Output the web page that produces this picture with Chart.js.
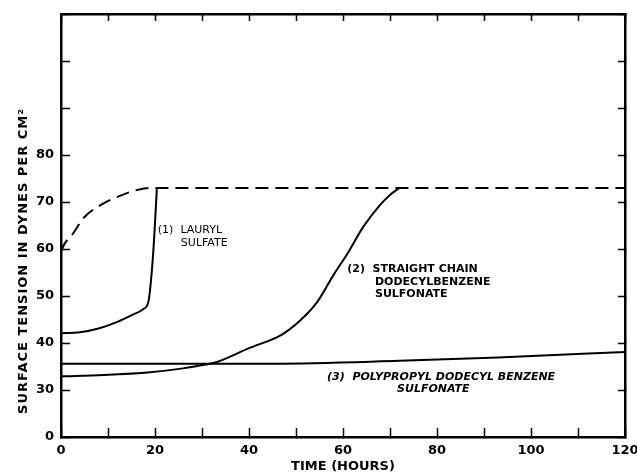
<!DOCTYPE html>
<html>
<head>
<meta charset="utf-8">
<script src="https://cdn.jsdelivr.net/npm/chart.js@4.4.1/dist/chart.umd.min.js"></script>
<style>
  html, body { margin: 0; padding: 0; background: #fff; }
  #wrap { width: 637px; height: 474px; position: relative; }
</style>
</head>
<body>
<div id="wrap"><canvas id="tensionChart"></canvas></div>
<script>
// Surface tension vs. time.
// Note the y axis is broken: the bottom tick reads "0" but sits where 20 would be.

const xTickValues = [0, 10, 20, 30, 40, 50, 60, 70, 80, 90, 100, 110, 120];
const xTickLabels = ['0', '', '20', '', '40', '', '60', '', '80', '', '100', '', '120'];
const yTickValues = [20, 30, 40, 50, 60, 70, 80, 90, 100, 110];
const yTickLabels = ['0', '30', '40', '50', '60', '70', '80', '', '', ''];

// dashed curve (rise to the plateau, then flat)
const dashedTime = [0, 0.8, 2.2, 4.9, 8.5, 12, 15.6, 19.3, 20.5, 120];
const dashedTension = [59.5, 61.2, 62.8, 66.7, 69.4, 71.1, 72.4, 73, 73, 73];

// (1) lauryl sulfate
const laurylTime = [0, 4, 8, 12, 15, 17.5, 18.6, 19.3, 19.8, 20.4];
const laurylTension = [42.1, 42.3, 43.1, 44.5, 45.9, 47.2, 48.8, 55, 62, 73];

// (2) straight chain dodecylbenzene sulfonate
const straightTime = [0, 9, 19, 26, 29.5, 33, 40, 47, 51, 54.5, 58, 61, 64.3, 67.9, 70, 72];
const straightTension = [32.9, 33.2, 33.8, 34.6, 35.2, 35.9, 38.9, 41.8, 44.9, 48.7, 54.5, 59.1, 64.7, 69.4, 71.5, 73];

// (3) polypropyl dodecyl benzene sulfonate
const polyTime = [0, 45, 72, 93, 120];
const polyTension = [35.6, 35.6, 36.2, 36.9, 38.1];

const yTitle = 'SURFACE TENSION IN DYNES PER CM\u00B2';
const xTitle = 'TIME (HOURS)';
const laurylLabel = ['(1)  LAURYL', 'SULFATE'];
const straightLabel = ['(2)  STRAIGHT CHAIN', 'DODECYLBENZENE', 'SULFONATE'];
const polyLabel = ['(3)  POLYPROPYL DODECYL BENZENE', 'SULFONATE'];

function points(xs, ys) {
  return xs.map((x, i) => ({ x: x, y: ys[i] }));
}

function pickLabel(values, labels) {
  return (v) => {
    const i = values.indexOf(v);
    return i < 0 ? '' : labels[i];
  };
}

// drop the half-label overhang padding so the frame goes where we size it
function noOverhang(s) {
  s.paddingLeft = 0;
  s.paddingRight = 0;
  s.paddingTop = 0;
  s.paddingBottom = 0;
}

Chart.defaults.font.family = "'DejaVu Sans', sans-serif";
Chart.defaults.color = '#000';

const AXIS_W = 2.5;

// text on the plot: curve names placed in data units, plus the rotated y title
const plotText = {
  id: 'plotText',
  afterDatasetsDraw(chart) {
    const { ctx, scales } = chart;
    const sx = scales.x, sy = scales.y;
    const put = (lines, at, font) => {
      ctx.font = font;
      lines.forEach((line, i) => {
        ctx.fillText(line, sx.getPixelForValue(at[i][0]), sy.getPixelForValue(at[i][1]));
      });
    };
    ctx.save();
    ctx.fillStyle = '#000';
    ctx.textAlign = 'left';
    ctx.textBaseline = 'middle';
    put(laurylLabel, [[20.6, 64.0], [25.5, 61.3]], "11px 'DejaVu Sans'");
    put(straightLabel, [[60.9, 55.7], [66.8, 53.0], [66.8, 50.4]], "bold 11px 'DejaVu Sans'");
    put(polyLabel, [[56.6, 32.8], [71.5, 30.2]], "italic bold 11px 'DejaVu Sans'");

    ctx.translate(24, 261);
    ctx.rotate(-Math.PI / 2);
    ctx.textAlign = 'center';
    ctx.font = "bold 13px 'DejaVu Sans'";
    ctx.letterSpacing = '1px';
    ctx.fillText(yTitle, 0, 0);
    ctx.restore();
  }
};

const lineStyle = {
  borderColor: '#000',
  borderWidth: 2,
  pointRadius: 0,
  fill: false,
  cubicInterpolationMode: 'monotone'
};

new Chart(document.getElementById('tensionChart'), {
  type: 'line',
  data: {
    datasets: [
      Object.assign({ label: 'reference', data: points(dashedTime, dashedTension), borderDash: [13, 7] }, lineStyle),
      Object.assign({ label: 'lauryl', data: points(laurylTime, laurylTension) }, lineStyle),
      Object.assign({ label: 'straight', data: points(straightTime, straightTension) }, lineStyle),
      Object.assign({ label: 'poly', data: points(polyTime, polyTension) }, lineStyle)
    ]
  },
  options: {
    responsive: true,
    maintainAspectRatio: false,
    animation: false,
    layout: { padding: 0 },
    plugins: { legend: { display: false }, tooltip: { enabled: false } },
    scales: {
      x: {
        type: 'linear',
        position: 'bottom',
        min: 0,
        max: 120,
        afterBuildTicks: (s) => { s.ticks = xTickValues.map((v) => ({ value: v })); },
        ticks: {
          autoSkip: false,
          maxRotation: 0,
          padding: 15,
          font: { size: 13, weight: 'bold' },
          callback: pickLabel(xTickValues, xTickLabels)
        },
        grid: { drawOnChartArea: false, tickLength: -9, tickWidth: 1.5, tickColor: '#000' },
        border: { color: '#000', width: AXIS_W },
        title: { display: true, text: xTitle, font: { size: 13, weight: 'bold' }, padding: { top: 0, bottom: 0 } },
        afterFit: (s) => { s.height = 37; noOverhang(s); }
      },
      x2: {
        type: 'linear',
        position: 'top',
        min: 0,
        max: 120,
        afterBuildTicks: (s) => { s.ticks = xTickValues.map((v) => ({ value: v })); },
        ticks: { display: false },
        grid: { drawOnChartArea: false, tickLength: -7, tickWidth: 1.5, tickColor: '#000' },
        border: { color: '#000', width: AXIS_W },
        afterFit: (s) => { s.height = 14; noOverhang(s); }
      },
      y: {
        type: 'linear',
        position: 'left',
        min: 20,
        max: 110,
        afterBuildTicks: (s) => { s.ticks = yTickValues.map((v) => ({ value: v })); },
        ticks: {
          autoSkip: false,
          padding: 16,
          font: { size: 13, weight: 'bold' },
          callback: pickLabel(yTickValues, yTickLabels)
        },
        grid: { drawOnChartArea: false, tickLength: -9, tickWidth: 1.5, tickColor: '#000' },
        border: { color: '#000', width: AXIS_W },
        afterFit: (s) => { s.width = 61; noOverhang(s); }
      },
      y2: {
        type: 'linear',
        position: 'right',
        min: 20,
        max: 110,
        afterBuildTicks: (s) => { s.ticks = yTickValues.map((v) => ({ value: v })); },
        ticks: { display: false },
        grid: { drawOnChartArea: false, tickLength: -7, tickWidth: 1.5, tickColor: '#000' },
        border: { color: '#000', width: AXIS_W },
        afterFit: (s) => { s.width = 12; noOverhang(s); }
      }
    }
  },
  plugins: [plotText]
});
</script>
</body>
</html>
